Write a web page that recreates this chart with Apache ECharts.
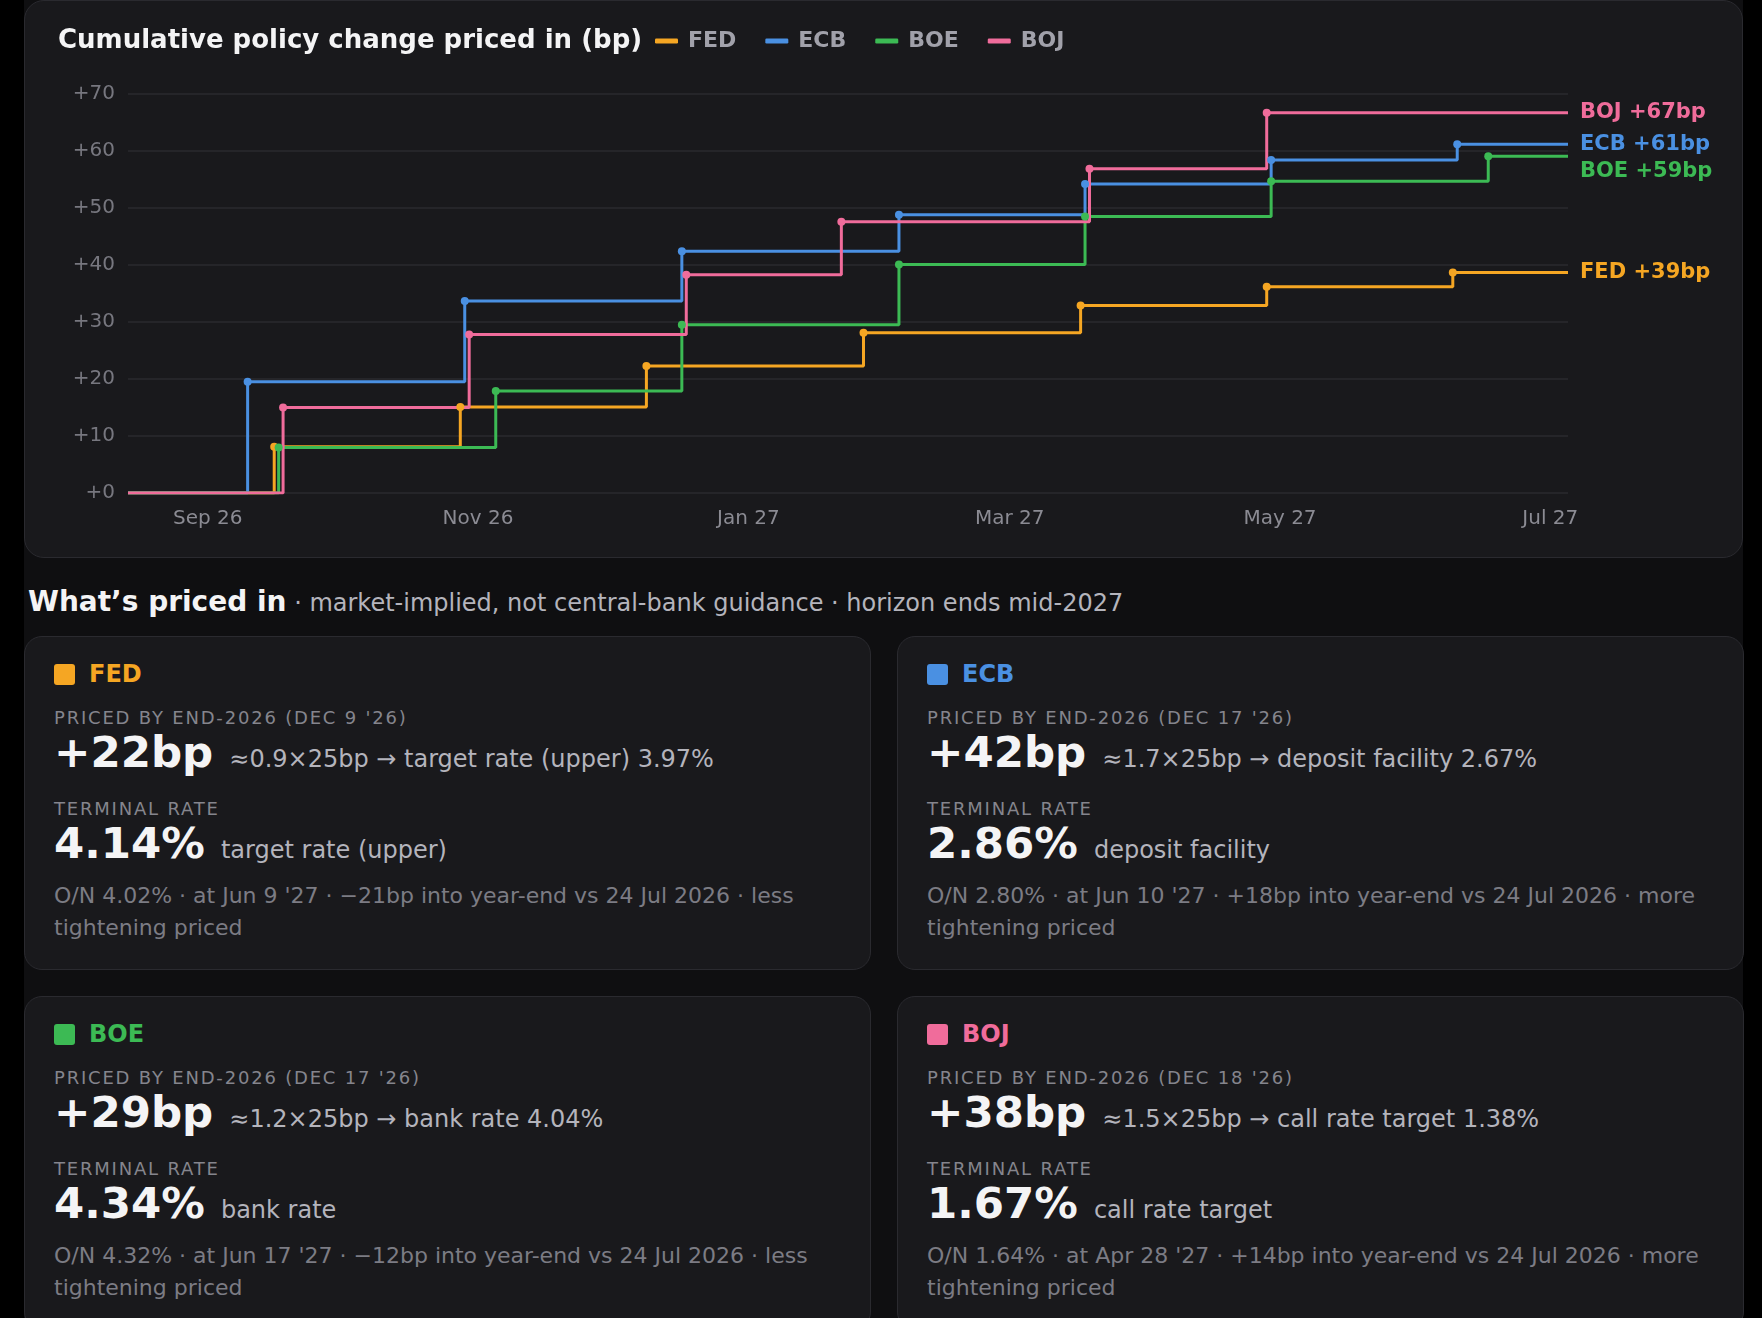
<!DOCTYPE html>
<html>
<head>
<meta charset="utf-8">
<script src="https://cdn.jsdelivr.net/npm/echarts@6/dist/echarts.min.js"></script>
<style>
  html, body { margin: 0; padding: 0; background: #000; }
  body { width: 1762px; height: 1318px; overflow: hidden; position: relative;
         font-family: "DejaVu Sans", sans-serif; }
  #page { position: absolute; left: 24px; top: 0; width: 1719px; height: 1318px; background: #0f0f11; }
  #panel { position: absolute; left: 0; top: 0; width: 1719px; height: 558px; box-sizing: border-box;
           background: #19191c; border: 1.5px solid #2a2a2f; border-radius: 20px; }
  #chart { position: absolute; left: 33px; top: 0; width: 1654px; height: 545px; }
  #head { position: absolute; left: 4px; top: 585px; line-height: 34px; white-space: nowrap; }
  #head b { font-size: 28px; color: #f4f4f5; }
  #head span { font-size: 24px; color: #b4b4bc; }
  .card { position: absolute; width: 847px; height: 334px; box-sizing: border-box; padding: 20px 29px 0 29px;
          background: #19191c; border: 1.5px solid #2a2a2f; border-radius: 18px; }
  .hdr { display: flex; align-items: center; height: 34px; font-size: 24px; font-weight: bold; }
  .sq { width: 21px; height: 21px; border-radius: 3px; margin-right: 14px; }
  .lbl { margin-top: 16px; font-size: 18px; line-height: 22px; letter-spacing: 1.8px; color: #85858d; }
  .lbl.t { margin-top: 16px; }
  .big { display: flex; align-items: baseline; margin-top: 0; line-height: 46px; white-space: nowrap; }
  .big b { font-size: 43.5px; color: #f4f4f5; margin-right: 16px; }
  .big span { font-size: 24px; color: #b4b4bc; }
  .note { margin-top: 7px; font-size: 22px; line-height: 31.5px; color: #7c7c84; }
</style>
</head>
<body>
<div id="page">
  <div id="panel"><div id="chart"></div></div>
  <div id="head"><b>What’s priced in</b><span> · market-implied, not central-bank guidance · horizon ends mid-2027</span></div>
  <div id="cards"></div>
</div>
<script>
// 央行名称与颜色
var banks = ['FED', 'ECB', 'BOE', 'BOJ'];
var colors = ['#f5a623', '#4a90e2', '#3cba54', '#f06c9b'];

// 每次会议日期与累计定价（bp）
var fedDates = ['2026-09-16', '2026-10-28', '2026-12-09', '2027-01-27', '2027-03-17', '2027-04-28', '2027-06-09'];
var fedBp = [8.1, 15.1, 22.3, 28.1, 32.9, 36.2, 38.7];
var ecbDates = ['2026-09-10', '2026-10-29', '2026-12-17', '2027-02-04', '2027-03-18', '2027-04-29', '2027-06-10'];
var ecbBp = [19.5, 33.7, 42.4, 48.8, 54.2, 58.4, 61.2];
var boeDates = ['2026-09-17', '2026-11-05', '2026-12-17', '2027-02-04', '2027-03-18', '2027-04-29', '2027-06-17'];
var boeBp = [8.0, 17.9, 29.5, 40.1, 48.5, 54.7, 59.1];
var bojDates = ['2026-09-18', '2026-10-30', '2026-12-18', '2027-01-22', '2027-03-19', '2027-04-28'];
var bojBp = [15.0, 27.8, 38.3, 47.6, 56.9, 66.7];

var axisStart = '2026-08-14';
var axisEnd = '2027-07-05';
var tickDates = ['2026-09-01', '2026-11-01', '2027-01-01', '2027-03-01', '2027-05-01', '2027-07-01'];
var yTicks = [0, 10, 20, 30, 40, 50, 60, 70];
var monthNames = ['Jan', 'Feb', 'Mar', 'Apr', 'May', 'Jun', 'Jul', 'Aug', 'Sep', 'Oct', 'Nov', 'Dec'];

// 卡片文字
var cardInfo = [
    { when: "PRICED BY END-2026 (DEC 9 '26)", bp: '+22bp', conv: '≈0.9×25bp → target rate (upper) 3.97%',
      term: '4.14%', rate: 'target rate (upper)', note: "O/N 4.02% · at Jun 9 '27 · −21bp into year-end vs 24 Jul 2026 · less tightening priced" },
    { when: "PRICED BY END-2026 (DEC 17 '26)", bp: '+42bp', conv: '≈1.7×25bp → deposit facility 2.67%',
      term: '2.86%', rate: 'deposit facility', note: "O/N 2.80% · at Jun 10 '27 · +18bp into year-end vs 24 Jul 2026 · more tightening priced" },
    { when: "PRICED BY END-2026 (DEC 17 '26)", bp: '+29bp', conv: '≈1.2×25bp → bank rate 4.04%',
      term: '4.34%', rate: 'bank rate', note: "O/N 4.32% · at Jun 17 '27 · −12bp into year-end vs 24 Jul 2026 · less tightening priced" },
    { when: "PRICED BY END-2026 (DEC 18 '26)", bp: '+38bp', conv: '≈1.5×25bp → call rate target 1.38%',
      term: '1.67%', rate: 'call rate target', note: "O/N 1.64% · at Apr 28 '27 · +14bp into year-end vs 24 Jul 2026 · more tightening priced" }
];

function stepData(dates, values) {
    var out = [{ value: [Date.parse(axisStart), 0], symbol: 'none' }];
    for (var i = 0; i < dates.length; i++) {
        out.push([Date.parse(dates[i]), values[i]]);
    }
    out.push({ value: [Date.parse(axisEnd), values[values.length - 1]], symbol: 'none' });
    return out;
}

var seriesData = [stepData(fedDates, fedBp), stepData(ecbDates, ecbBp), stepData(boeDates, boeBp), stepData(bojDates, bojBp)];

// 卡片
var cardsHtml = '';
for (var i = 0; i < banks.length; i++) {
    var c = cardInfo[i];
    var cardLeft = (i % 2) * 873;
    var cardTop = i < 2 ? 636 : 996;
    cardsHtml += '<div class="card" style="left:' + cardLeft + 'px;top:' + cardTop + 'px">' +
        '<div class="hdr" style="color:' + colors[i] + '"><div class="sq" style="background:' + colors[i] + '"></div>' + banks[i] + '</div>' +
        '<div class="lbl">' + c.when + '</div>' +
        '<div class="big"><b>' + c.bp + '</b><span>' + c.conv + '</span></div>' +
        '<div class="lbl t">TERMINAL RATE</div>' +
        '<div class="big"><b>' + c.term + '</b><span>' + c.rate + '</span></div>' +
        '<div class="note">' + c.note + '</div></div>';
}
document.getElementById('cards').innerHTML = cardsHtml;

var myChart = echarts.init(document.getElementById('chart'));

var series = [];
for (var k = 0; k < banks.length; k++) {
    series.push({
        name: banks[k],
        type: 'line',
        step: 'end',
        data: seriesData[k],
        symbol: 'circle',
        symbolSize: 8,
        showSymbol: true,
        lineStyle: { width: 3, color: colors[k] },
        itemStyle: { color: colors[k] },
        emphasis: { disabled: true },
        endLabel: {
            show: true,
            distance: 12,
            lineHeight: 27,
            color: colors[k],
            fontSize: 21,
            fontWeight: 'bold',
            formatter: function (p) {
                return p.seriesName + ' +' + Math.round(p.value[1]) + 'bp';
            }
        },
        labelLayout: { moveOverlap: 'shiftY' }
    });
}

var option = {
    animation: false,
    color: colors,
    textStyle: { fontFamily: 'DejaVu Sans' },
    title: {
        text: 'Cumulative policy change priced in (bp)',
        left: 0,
        top: 27,
        padding: 0,
        textStyle: { color: '#f4f4f5', fontSize: 26, fontWeight: 'bold', lineHeight: 26 }
    },
    legend: {
        data: banks,
        left: 597,
        top: 29,
        padding: 0,
        icon: 'roundRect',
        itemWidth: 23,
        itemHeight: 5,
        itemGap: 29,
        textStyle: { color: '#a1a1aa', fontSize: 22, fontWeight: 'bold', padding: [0, 0, 0, 5] }
    },
    grid: { left: 70, right: 144, top: 93, bottom: 53 },
    xAxis: {
        type: 'value',
        min: Date.parse(axisStart),
        max: Date.parse(axisEnd),
        axisLine: { show: false },
        axisTick: { show: false },
        splitLine: { show: false },
        axisLabel: {
            customValues: tickDates.map(function (d) { return Date.parse(d); }),
            color: '#8b8b93',
            fontSize: 20,
            margin: 16,
            formatter: function (v) {
                var d = new Date(v);
                return monthNames[d.getUTCMonth()] + ' ' + String(d.getUTCFullYear()).slice(2);
            }
        }
    },
    yAxis: {
        type: 'value',
        min: yTicks[0],
        max: yTicks[yTicks.length - 1],
        interval: 10,
        axisLine: { show: false },
        axisTick: { show: false },
        splitLine: { lineStyle: { color: '#2a2a2e', width: 1.5 } },
        axisLabel: {
            color: '#77777f',
            fontSize: 20,
            margin: 13,
            formatter: function (v) { return '+' + v; }
        }
    },
    series: series
};

myChart.setOption(option);
</script>
</body>
</html>
